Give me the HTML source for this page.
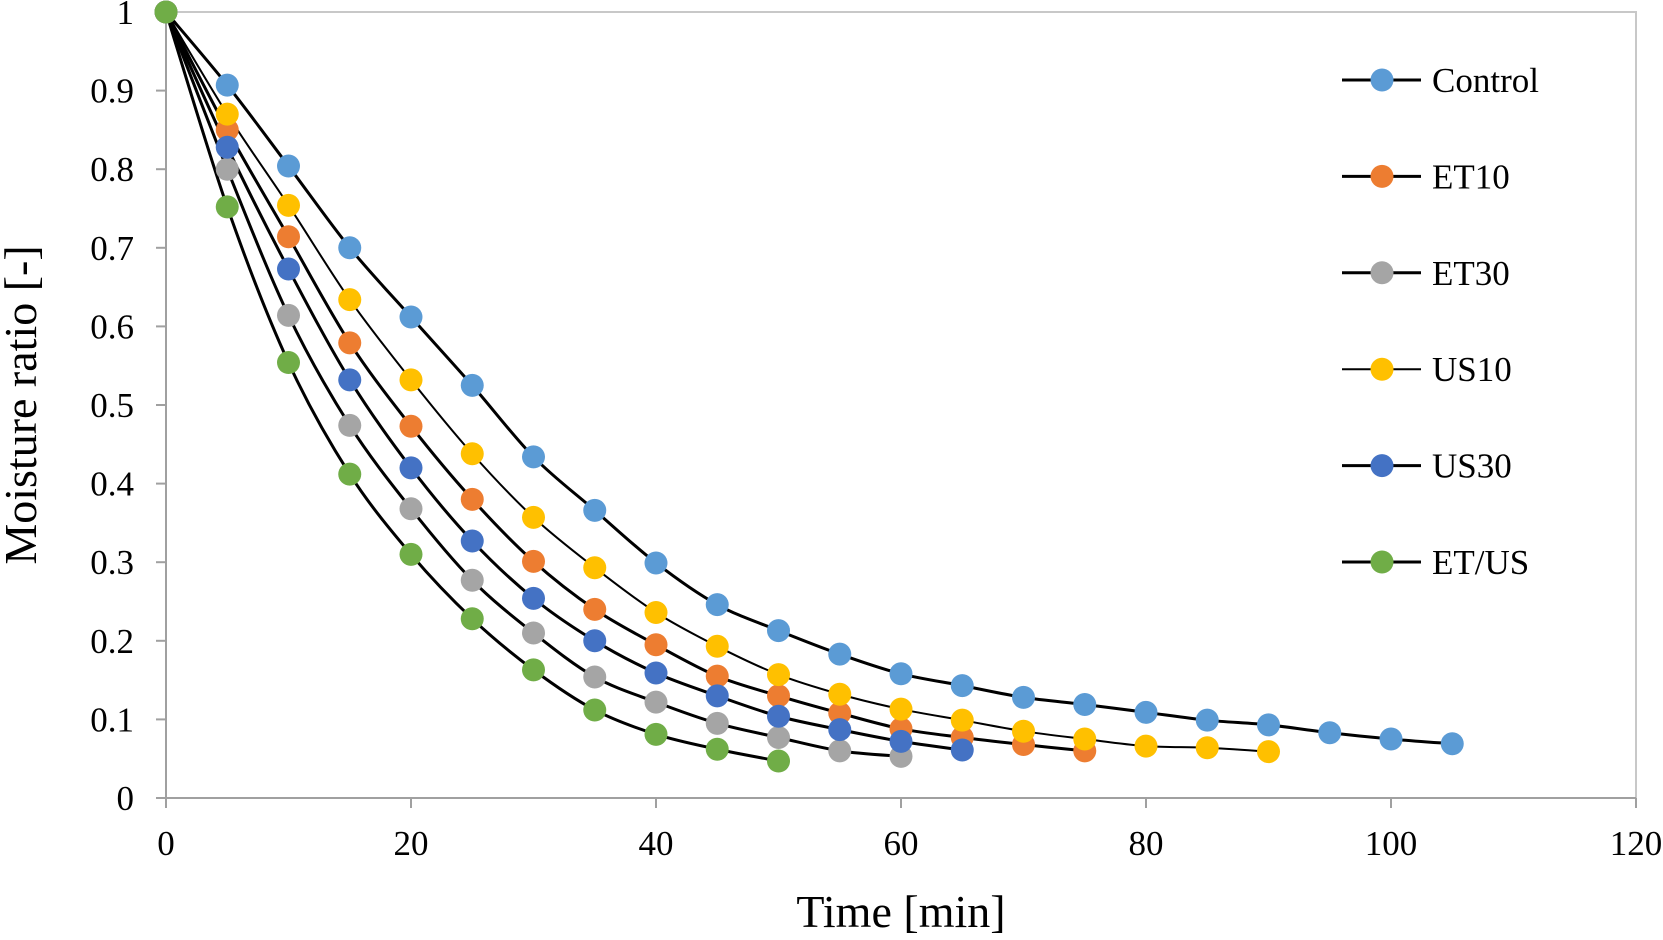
<!DOCTYPE html>
<html><head><style>body{margin:0;background:#fff}svg{display:block}text{font-family:"Liberation Serif",serif;fill:#000}</style></head>
<body>
<svg id="s" width="1663" height="940" xmlns="http://www.w3.org/2000/svg"></svg>
<script>
const s=document.getElementById('s');
const X0=166,X1=1636,Y0=798,Y1=12;
const fx=v=>X0+(X1-X0)*v/120, fy=v=>Y0-(Y0-Y1)*v;
let h='';
h+=`<rect x="${X0}" y="${Y1}" width="${X1-X0}" height="${Y0-Y1}" fill="none" stroke="#c8c8c8" stroke-width="2"/>`;
h+=`<line x1="${X0}" y1="${Y1}" x2="${X0}" y2="${Y0}" stroke="#a0a0a0" stroke-width="2"/><line x1="${X0}" y1="${Y0}" x2="${X1}" y2="${Y0}" stroke="#a0a0a0" stroke-width="2"/>`;
for(let i=0;i<=10;i++){const y=fy(i/10);h+=`<line x1="${X0-10}" y1="${y}" x2="${X0}" y2="${y}" stroke="#a0a0a0" stroke-width="2"/><text x="134" y="${y+12}" font-size="35" text-anchor="end">${i==0?'0':i==10?'1':'0.'+i}</text>`;}
for(let i=0;i<=6;i++){const x=fx(i*20);h+=`<line x1="${x}" y1="${Y0}" x2="${x}" y2="${Y0+10}" stroke="#a0a0a0" stroke-width="2"/><text x="${x}" y="855" font-size="35" text-anchor="middle">${i*20}</text>`;}
h+=`<text x="${(X0+X1)/2}" y="927" font-size="46" text-anchor="middle">Time [min]</text>`;
h+=`<text transform="translate(36,405) rotate(-90)" font-size="46" text-anchor="middle">Moisture ratio [-]</text>`;
const S=[
['Control','#5b9bd5',3,[1,.907,.804,.70,.612,.525,.434,.366,.299,.246,.213,.183,.158,.143,.128,.119,.109,.099,.093,.083,.075,.069]],
['ET10','#ed7d31',3,[1,.85,.714,.579,.473,.38,.301,.24,.195,.155,.13,.108,.088,.077,.068,.06]],
['ET30','#a5a5a5',3,[1,.80,.614,.474,.368,.277,.21,.154,.122,.095,.077,.06,.053]],
['US10','#ffc000',2,[1,.87,.754,.634,.532,.438,.357,.293,.236,.193,.157,.132,.113,.099,.085,.075,.066,.064,.059]],
['US30','#4472c4',3,[1,.828,.673,.532,.42,.327,.254,.2,.159,.13,.104,.087,.072,.061]],
['ET/US','#70ad47',3,[1,.752,.554,.412,.31,.228,.163,.112,.081,.062,.047]]];
let lines='',dots='';
S.forEach((d,k)=>{
 const p=d[3].map((v,i)=>[fx(i*5),fy(v)]);
 let path=`M${p[0][0]},${p[0][1]}`;
 for(let i=0;i<p.length-1;i++){const a=p[Math.max(0,i-1)],b=p[i],c=p[i+1],e=p[Math.min(p.length-1,i+2)];
  const t=0.16;path+=` C${b[0]+(c[0]-a[0])*t},${b[1]+(c[1]-a[1])*t} ${c[0]-(e[0]-b[0])*t},${c[1]-(e[1]-b[1])*t} ${c[0]},${c[1]}`;}
 lines+=`<path d="${path}" fill="none" stroke="#000" stroke-width="${d[2]}"/>`;
 p.forEach(q=>dots+=`<circle cx="${q[0]}" cy="${q[1]}" r="11.5" fill="${d[1]}"/>`);
 const ly=80+k*96.4;
 h+=`<line x1="1342" y1="${ly}" x2="1421" y2="${ly}" stroke="#000" stroke-width="${d[2]}"/><circle cx="1382" cy="${ly}" r="11.5" fill="${d[1]}"/><text x="1432" y="${ly+12}" font-size="35">${d[0]}</text>`;
});
s.innerHTML=h+lines+dots;
</script>
</body></html>
